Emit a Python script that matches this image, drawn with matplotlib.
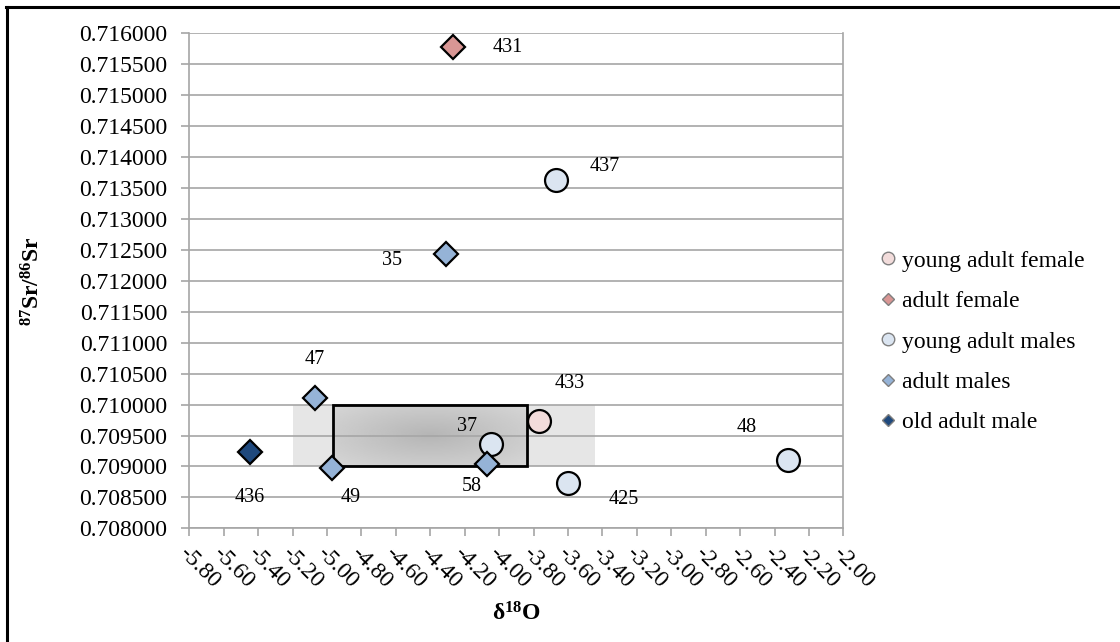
import numpy as np
import matplotlib.pyplot as plt
from matplotlib.lines import Line2D
from matplotlib.patches import Rectangle

plt.rcParams['font.family'] = ['Liberation Serif', 'DejaVu Serif']
plt.rcParams['mathtext.fontset'] = 'custom'
plt.rcParams['mathtext.rm'] = 'Liberation Serif'
plt.rcParams['mathtext.bf'] = 'Liberation Serif:bold'

# samples: label, group, d18O, 87Sr/86Sr
etykiety = ['433', '431', '437', '37', '425', '48', '35', '47', '49', '58', '436']
grupy = ['young adult female', 'adult female', 'young adult males', 'young adult males',
         'young adult males', 'young adult males', 'adult males', 'adult males',
         'adult males', 'adult males', 'old adult male']
d18o = [-3.77, -4.27, -3.67, -4.05, -3.60, -2.32, -4.31, -5.07, -4.97, -4.07, -5.45]
sr = [0.709736, 0.715778, 0.713627, 0.709366, 0.708730, 0.709102, 0.712430,
      0.710100, 0.708977, 0.709042, 0.709236]

# label offsets in pixels (x right, y down)
przes = [(31, -37), (55, 0), (49, -14), (-23, -17), (56, 16), (-42, -33),
         (-54, 6), (0, -39), (19, 30), (-15, 23), (0, 46)]

# local range band and box
pasmo_x = (-5.196, -3.443)
ramka_x = (-4.963, -3.840)
zakres_y = (0.709, 0.710)

kolejnosc = ['young adult female', 'adult female', 'young adult males', 'adult males', 'old adult male']
kolory = {'young adult female': '#f2dcdb', 'adult female': '#d99694',
          'young adult males': '#dbe5f1', 'adult males': '#95b3d7',
          'old adult male': '#1f497d'}
markery = {'young adult female': 'o', 'adult female': 'D', 'young adult males': 'o',
           'adult males': 'D', 'old adult male': 'D'}

fig = plt.figure(figsize=(11.2, 6.42), dpi=100)
ax = fig.add_axes([0.169, 0.177, 0.584, 0.771])

# band
ax.add_patch(Rectangle((pasmo_x[0], zakres_y[0]), pasmo_x[1] - pasmo_x[0],
                       zakres_y[1] - zakres_y[0], facecolor='#e6e6e6',
                       edgecolor='none', zorder=1))
# radial gradient box
gx, gy = np.meshgrid(np.linspace(-1, 1, 200), np.linspace(-1, 1, 100))
r = np.clip(np.sqrt(gx ** 2 + gy ** 2) / 1.3, 0, 1)
ax.imshow(r, cmap='gray', vmin=-5.9, vmax=2.4, extent=[ramka_x[0], ramka_x[1], zakres_y[0], zakres_y[1]],
          aspect='auto', zorder=1.5, interpolation='bilinear')
ax.add_patch(Rectangle((ramka_x[0], zakres_y[0]), ramka_x[1] - ramka_x[0],
                       zakres_y[1] - zakres_y[0], facecolor='none',
                       edgecolor='black', lw=2, zorder=2.6))
ax.set_xlim(-5.8, -2.0)
ax.set_ylim(0.708, 0.716)

ax.set_axisbelow(False)
ax.yaxis.grid(True, color='#a6a6a6', lw=1.2)
yt = np.arange(0.708, 0.71601, 0.0005)
ax.set_yticks(yt)
ax.set_yticklabels([f'{v:.6f}' for v in yt], fontsize=17, fontfamily='Liberation Serif')
xt = np.arange(-5.8, -1.99, 0.2)
ax.set_xticks(xt)
ax.set_xticklabels([f'{v:.2f}' for v in xt], fontsize=17, rotation=-45, fontfamily='Liberation Serif',
                   ha='left', va='top', rotation_mode='anchor')
for s in ax.spines.values():
    s.set_color('#a6a6a6')
    s.set_linewidth(1.2)
ax.spines['top'].set_visible(False)
ax.tick_params(axis='both', color='#a6a6a6', length=6, width=1.2)
ax.tick_params(axis='y', pad=10)
ax.tick_params(axis='x', pad=4)

for i in range(len(etykiety)):
    g = grupy[i]
    rozm = 16.5 if markery[g] == 'o' else 12.5
    ax.plot(d18o[i], sr[i], marker=markery[g], ms=rozm, mfc=kolory[g],
            mec='black', mew=1.6, ls='none', zorder=4)
    ax.annotate(etykiety[i], (d18o[i], sr[i]), xytext=(przes[i][0], -przes[i][1]),
                textcoords='offset pixels', ha='center', va='center', fontsize=14.5, zorder=5)

ax.set_xlabel(r'$\mathbf{δ^{18}O}$', fontsize=17, labelpad=7.5)
ax.set_ylabel(r'$\mathbf{^{87}Sr/^{86}Sr}$', fontsize=17)
ax.yaxis.set_label_coords(-0.222, 0.5)

uchwyty = [Line2D([], [], marker=markery[g], ls='none', mfc=kolory[g], mec='#7f7f7f',
                  mew=1, ms=9 if markery[g] == 'o' else 6.5) for g in kolejnosc]
fig.legend(uchwyty, kolejnosc, loc='upper left', bbox_to_anchor=(0.778, 0.625),
           frameon=False, fontsize=17, handlelength=0.6, handletextpad=0.3,
           labelspacing=0.8, borderaxespad=0)

# outer frame edges
fig.add_artist(Line2D([6.5 / 1120, 6.5 / 1120], [0, 1 - 7 / 642], color='black', lw=2.2,
                      transform=fig.transFigure))
fig.add_artist(Line2D([6 / 1120, 1], [1 - 7 / 642, 1 - 7 / 642], color='black', lw=2.2,
                      transform=fig.transFigure))

fig.savefig('out.png', dpi=100)
